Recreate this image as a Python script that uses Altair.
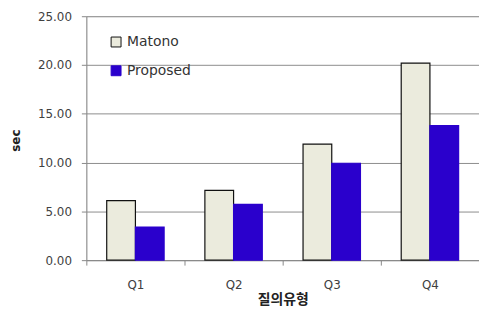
import altair as alt
import pandas as pd

categories = ["Q1", "Q2", "Q3", "Q4"]
series = ["Matono", "Proposed"]
matono = [6.1, 7.15, 11.9, 20.2]
proposed = [3.4, 5.72, 9.93, 13.8]

rows = []
for i, c in enumerate(categories):
    rows.append({"q": c, "method": "Matono", "sec": matono[i]})
    rows.append({"q": c, "method": "Proposed", "sec": proposed[i]})
df = pd.DataFrame(rows)

font = "DejaVu Sans"

leg = dict(orient="none", legendX=23, legendY=19, symbolType="square",
           symbolSize=100, labelFont=font, labelFontSize=14,
           labelColor="#333333", rowPadding=15, labelOffset=4,
           symbolStrokeWidth=1)

chart = alt.Chart(df).mark_bar(strokeWidth=1.2).encode(
    x=alt.X("q:N", sort=categories, title="질의유형",
            scale=alt.Scale(paddingInner=0, paddingOuter=0),
            axis=alt.Axis(labelAngle=0, tickBand="extent", labelFont=font, labelFontSize=12,
                          labelColor="#404040", labelPadding=15, tickColor="#888888", tickSize=5,
                          domainColor="#888888", grid=False,
                          titleFont="Noto Sans CJK KR", titleFontSize=14, titleFontWeight="bold",
                          titleColor="#222222", titleY=40, titleBaseline="middle")),
    xOffset=alt.XOffset("method:N", sort=series,
                        scale=alt.Scale(paddingInner=0, paddingOuter=0.71)),
    y=alt.Y("sec:Q", title="sec",
            scale=alt.Scale(domain=[0, 25], nice=False),
            axis=alt.Axis(values=[0, 5, 10, 15, 20, 25], format=".2f", labelFont=font,
                          labelFontSize=12, labelColor="#404040", labelPadding=10,
                          tickColor="#888888", tickSize=5, domainColor="#888888",
                          gridColor="#8c8c8c", gridWidth=1,
                          titleFont=font, titleFontSize=12, titleFontWeight="bold",
                          titleColor="#222222", titleX=-71, titleY=125, titleAngle=-90,
                          titleAlign="center", titleBaseline="middle")),
    color=alt.Color("method:N", sort=series, title=None,
                    scale=alt.Scale(domain=series, range=["#ebebdd", "#2a00cc"]),
                    legend=alt.Legend(**leg)),
    stroke=alt.Stroke("method:N", sort=series, title=None,
                      scale=alt.Scale(domain=series, range=["#111111", "#2a00cc"]),
                      legend=alt.Legend(**leg)),
).properties(
    width=396, height=246,
    autosize=alt.AutoSizeParams(type="none"),
    padding={"left": 79, "top": 7, "right": 0, "bottom": 50},
).configure_view(stroke=None).configure(background="white")

chart.save("out.html", embed_options={"renderer": "svg", "actions": False})
